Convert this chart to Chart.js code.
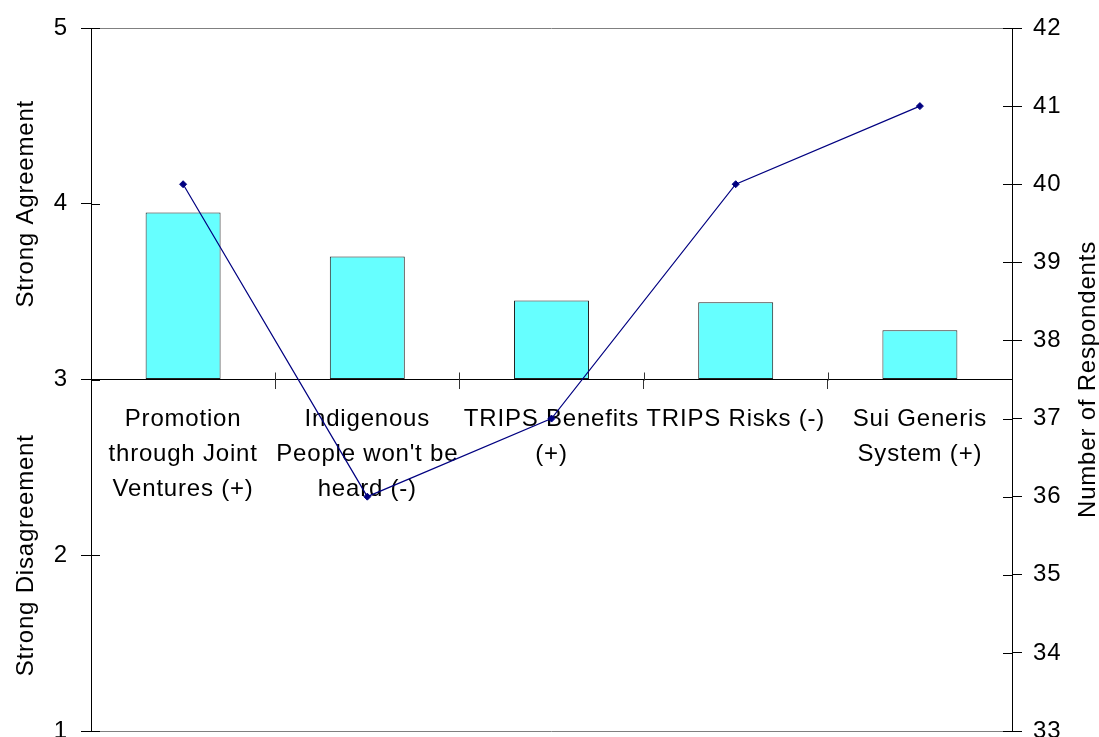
<!DOCTYPE html>
<html><head><meta charset="utf-8">
<script src="https://cdn.jsdelivr.net/npm/chart.js@4.4.1/dist/chart.umd.min.js"></script>
<style>html,body{margin:0;padding:0;background:#fff}canvas{display:block}</style>
</head><body>
<canvas id="c" width="1099" height="737"></canvas>
<script>
const categories = [
  ["Promotion", "through Joint", "Ventures (+)"],
  ["Indigenous", "People won't be", "heard (-)"],
  ["TRIPS Benefits", "(+)"],
  ["TRIPS Risks (-)"],
  ["Sui Generis", "System (+)"]
];
const agreementScores = [3.95, 3.70, 3.45, 3.44, 3.28];
const respondents = [40, 36, 37, 40, 41];
const leftRange = [1, 5];
const rightRange = [33, 42];
const agreementBase = 3;
const leftTitles = ["Strong Agreement", "Strong Disagreement"];
const rightTitle = "Number of Respondents";

const FONT = "'Liberation Sans', Arial, sans-serif";
const SPACING = '0.8px';
Chart.defaults.font.family = FONT;
Chart.defaults.font.size = 24;
Chart.defaults.color = '#000';

const spacingPlugin = {
  id: 'spacing',
  beforeUpdate(chart) { chart.ctx.letterSpacing = SPACING; },
  beforeDraw(chart) { chart.ctx.letterSpacing = SPACING; }
};

const decorPlugin = {
  id: 'decor',
  beforeDatasetsDraw(chart) {
    const {ctx, chartArea: a, scales: {x, y, y1}} = chart;
    ctx.save();
    ctx.lineWidth = 1;
    ctx.strokeStyle = '#808080';
    ctx.beginPath();
    const t = Math.round(a.top) + 0.5, b = Math.round(a.bottom) + 0.5;
    ctx.moveTo(a.left, t); ctx.lineTo(a.right, t);
    ctx.moveTo(a.left, b); ctx.lineTo(a.right, b);
    ctx.stroke();
    ctx.strokeStyle = '#000';
    ctx.beginPath();
    y.ticks.forEach((tk, i) => {
      const p = Math.round(y.getPixelForTick(i)) + 0.5;
      ctx.moveTo(a.left, p); ctx.lineTo(a.left + 9, p);
    });
    y1.ticks.forEach((tk, i) => {
      const p = Math.round(y1.getPixelForTick(i)) + 0.5;
      ctx.moveTo(a.right - 9, p); ctx.lineTo(a.right, p);
    });
    ctx.stroke();
    ctx.strokeStyle = '#333';
    ctx.beginPath();
    const base = Math.round(y.getPixelForValue(agreementBase)) + 0.5;
    for (let i = 1; i < x.ticks.length; i++) {
      const px = Math.round((x.getPixelForTick(i - 1) + x.getPixelForTick(i)) / 2) + 0.5;
      ctx.moveTo(px, base); ctx.lineTo(px, base - 8);
    }
    ctx.stroke();
    ctx.restore();
  },
  afterDraw(chart) {
    const {ctx, chartArea: a, scales: {y}} = chart;
    ctx.save();
    ctx.letterSpacing = SPACING;
    ctx.font = '24px ' + FONT;
    ctx.fillStyle = '#000';
    ctx.textAlign = 'center';
    ctx.textBaseline = 'alphabetic';
    const drawRot = (text, bx, cy) => {
      ctx.save();
      ctx.translate(bx, cy);
      ctx.rotate(-Math.PI / 2);
      ctx.fillText(text, 0, 0);
      ctx.restore();
    };
    const yTop = y.getPixelForValue(leftRange[1]);
    const yMid = y.getPixelForValue(agreementBase);
    const yBot = y.getPixelForValue(leftRange[0]);
    drawRot(leftTitles[0], 33, (yTop + yMid) / 2);
    drawRot(leftTitles[1], 33, (yMid + yBot) / 2);
    drawRot(rightTitle, 1095, (a.top + a.bottom) / 2);
    ctx.restore();
  }
};

new Chart(document.getElementById('c'), {
  data: {
    labels: categories,
    datasets: [
      {
        type: 'line',
        data: respondents,
        yAxisID: 'y1',
        order: 0,
        borderColor: '#000080',
        backgroundColor: '#000080',
        borderWidth: 1.2,
        pointStyle: 'rectRot',
        pointRadius: 3.5,
        pointBorderWidth: 1,
        tension: 0
      },
      {
        type: 'bar',
        data: agreementScores,
        base: agreementBase,
        yAxisID: 'y',
        order: 1,
        backgroundColor: '#66FFFF',
        borderColor: '#222',
        borderWidth: 1,
        borderSkipped: false,
        categoryPercentage: 1,
        barPercentage: 0.407
      }
    ]
  },
  options: {
    responsive: false,
    animation: false,
    events: [],
    layout: { autoPadding: false, padding: { top: 28, bottom: 6, left: 0, right: 0 } },
    plugins: { legend: { display: false }, tooltip: { enabled: false } },
    scales: {
      x: {
        type: 'category',
        position: { y: agreementBase },
        offset: true,
        grid: { display: true, drawOnChartArea: false, drawTicks: true, tickLength: 9, color: '#333', offset: true },
        border: { display: true, color: '#000', width: 1 },
        ticks: { autoSkip: false, maxRotation: 0, minRotation: 0, padding: 14, color: '#000', font: { size: 24, lineHeight: 1.44 } },
        afterFit(s) { s.paddingLeft = 0; s.paddingRight = 0; }
      },
      y: {
        type: 'linear',
        position: 'left',
        min: leftRange[0], max: leftRange[1],
        ticks: { stepSize: 1, padding: 13, color: '#000', font: { size: 24, lineHeight: 1 } },
        grid: { drawOnChartArea: false, tickLength: 10, color: '#000' },
        border: { display: true, color: '#000', width: 1 },
        afterFit(s) { s.width = 91; s.paddingTop = 0; s.paddingBottom = 0; }
      },
      y1: {
        type: 'linear',
        position: 'right',
        min: rightRange[0], max: rightRange[1],
        ticks: { stepSize: 1, padding: 11, color: '#000', font: { size: 24, lineHeight: 1 } },
        grid: { drawOnChartArea: false, tickLength: 10, color: '#000' },
        border: { display: true, color: '#000', width: 1 },
        afterFit(s) { s.width = 87; s.paddingTop = 0; s.paddingBottom = 0; }
      }
    }
  },
  plugins: [spacingPlugin, decorPlugin]
});
</script>
</body></html>
